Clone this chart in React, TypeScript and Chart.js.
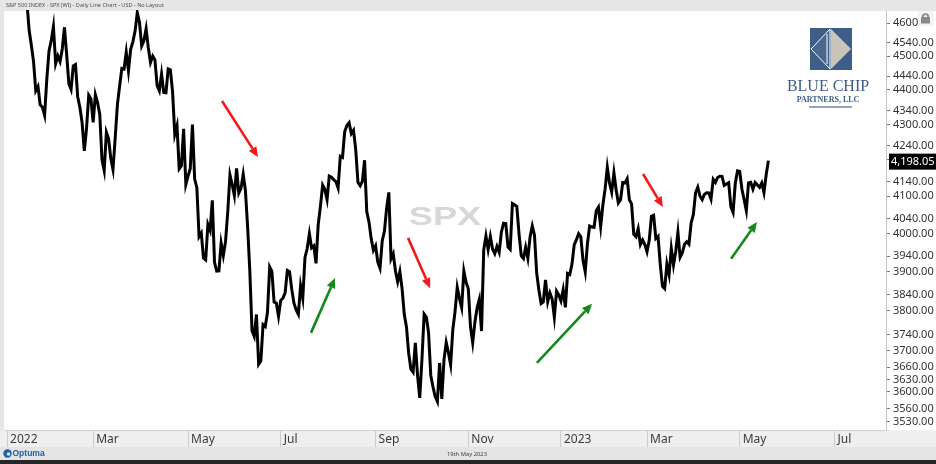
import { useEffect, useRef } from "react";
import { Chart, registerables } from "chart.js";

Chart.register(...registerables);

// S&P 500 daily closes, one array per month (trading days)
const jan22 = [4796.56, 4793.54, 4700.58, 4696.05, 4677.03, 4670.29, 4713.07, 4726.35, 4659.03, 4662.85, 4577.11, 4532.76, 4482.73, 4397.94, 4410.13, 4356.45, 4349.93, 4326.51, 4431.85, 4515.55];
const feb22 = [4546.54, 4589.38, 4477.44, 4500.53, 4483.87, 4521.54, 4587.18, 4504.08, 4418.64, 4401.67, 4471.07, 4475.01, 4380.26, 4348.87, 4304.76, 4225.5, 4288.7, 4384.65, 4373.94];
const mar22 = [4306.26, 4386.54, 4363.49, 4328.87, 4201.09, 4170.7, 4277.88, 4259.52, 4204.31, 4173.11, 4262.45, 4357.86, 4411.67, 4463.12, 4461.18, 4511.61, 4456.24, 4520.16, 4543.06, 4575.52, 4631.6, 4602.45, 4530.41];
const apr22 = [4545.86, 4582.64, 4525.12, 4481.15, 4500.21, 4488.28, 4412.53, 4397.45, 4446.59, 4392.59, 4391.69, 4462.21, 4459.45, 4393.66, 4271.78, 4296.12, 4175.2, 4183.96, 4287.5, 4131.93];
const may22 = [4155.38, 4175.48, 4300.17, 4146.87, 4123.34, 3991.24, 4001.05, 3935.18, 3930.08, 4023.89, 4008.01, 4088.85, 3923.68, 3900.79, 3901.36, 3973.75, 3941.48, 3978.73, 4057.84, 4158.24, 4132.15];
const jun22 = [4101.23, 4176.82, 4108.54, 4121.43, 4160.68, 4115.77, 4017.82, 3900.86, 3749.63, 3735.48, 3789.99, 3666.77, 3674.84, 3764.79, 3759.89, 3795.73, 3911.74, 3900.11, 3821.55, 3818.83, 3785.38];
const jul22 = [3825.33, 3831.39, 3845.08, 3902.62, 3899.38, 3854.43, 3818.8, 3801.78, 3790.38, 3863.16, 3830.85, 3936.69, 3959.9, 3998.95, 3961.63, 3966.84, 3921.05, 4023.61, 4072.43, 4130.29];
const aug22 = [4118.63, 4091.19, 4155.17, 4151.94, 4145.19, 4140.06, 4122.47, 4210.24, 4207.27, 4280.15, 4297.14, 4305.2, 4274.04, 4283.74, 4228.48, 4137.99, 4128.73, 4140.77, 4199.12, 4057.66, 4030.61, 3986.16, 3955.0];
const sep22 = [3966.85, 3924.26, 3908.19, 3979.87, 4006.18, 4067.36, 4110.41, 3932.69, 3946.01, 3901.35, 3873.33, 3899.89, 3855.93, 3789.93, 3757.99, 3693.23, 3655.04, 3647.29, 3719.04, 3640.47, 3585.62];
const oct22 = [3678.43, 3790.93, 3783.28, 3744.52, 3639.66, 3612.39, 3588.84, 3577.03, 3669.91, 3583.07, 3677.95, 3719.98, 3695.16, 3665.78, 3752.75, 3797.34, 3859.11, 3830.6, 3807.3, 3901.06, 3871.98];
const nov22 = [3856.1, 3759.69, 3719.89, 3770.55, 3806.8, 3828.11, 3748.57, 3956.37, 3992.93, 3957.25, 3991.73, 3958.79, 3946.56, 3965.34, 3949.94, 4003.58, 4027.26, 4026.12, 3963.94, 3957.63, 4080.11];
const dec22 = [4076.57, 4071.7, 3998.84, 3941.26, 3933.92, 3963.51, 3934.38, 3990.56, 4019.65, 3995.32, 3895.75, 3852.36, 3817.66, 3821.62, 3878.44, 3822.39, 3844.82, 3829.25, 3783.22, 3849.28, 3839.5];
const jan23 = [3824.14, 3852.97, 3808.1, 3895.08, 3892.09, 3919.25, 3969.61, 3983.17, 3999.09, 3990.97, 3928.86, 3898.85, 3972.61, 4019.81, 4016.95, 4016.22, 4060.43, 4070.56, 4017.77, 4076.6];
const feb23 = [4119.21, 4179.76, 4136.48, 4111.08, 4164.0, 4117.86, 4081.5, 4090.46, 4137.29, 4136.13, 4147.6, 4090.41, 4079.09, 3997.34, 3991.05, 4012.32, 3970.04, 3982.24, 3970.15];
const mar23 = [3951.39, 3981.35, 4045.64, 4048.42, 3986.37, 3992.01, 3918.32, 3861.59, 3855.76, 3919.29, 3891.93, 3960.28, 3916.64, 3951.57, 4002.87, 3936.97, 3948.72, 3970.99, 3977.53, 3971.27, 4027.81, 4050.83, 4109.31];
const apr23 = [4124.51, 4100.6, 4090.38, 4105.02, 4109.11, 4108.94, 4091.95, 4146.22, 4137.64, 4151.32, 4154.87, 4154.52, 4129.79, 4133.52, 4137.04, 4071.63, 4055.99, 4135.35, 4169.48];
const may23 = [4167.87, 4119.58, 4090.75, 4061.22, 4136.25, 4138.12, 4119.17, 4137.64, 4130.62, 4124.08, 4136.28, 4109.9, 4158.77, 4198.05];

const closes = [
  ...jan22, ...feb22, ...mar22, ...apr22, ...may22, ...jun22, ...jul22, ...aug22, ...sep22, ...oct22, ...nov22, ...dec22,
  ...jan23, ...feb23, ...mar23, ...apr23, ...may23,
];

// month-start trading-day indices for the time axis
const X_TICK_INDEX = [0, 39, 82, 124, 167, 209, 251, 290, 332, 375];
const X_TICK_LABELS = ["2022", "Mar", "May", "Jul", "Sep", "Nov", "2023", "Mar", "May", "Jul"];
const X_MIN = -1.4;
const X_MAX = 398.3;

const Y_TICKS = [3530, 3560, 3600, 3630, 3660, 3700, 3740, 3800, 3840, 3900, 3940, 4000, 4040, 4100, 4140, 4200, 4240, 4300, 4340, 4400, 4440, 4500, 4540, 4600];
const Y_MIN = 3510;
const Y_MAX = 4637;
const LAST_PRICE = 4198.05;

const TITLE = "S&P 500 INDEX - SPX (WI) - Daily Line Chart - USD - No Layout";
const FOOT_DATE = "19th May 2023";

// annotation arrows in (trading-day index, price)
const ARROW_FROM_X = [97.4, 181.7, 288.2, 137.7, 240.1, 328.1];
const ARROW_FROM_Y = [4368, 3988, 4161, 3744, 3670, 3933];
const ARROW_TO_X = [113.7, 191.7, 297.2, 148.6, 265.1, 339.8];
const ARROW_TO_Y = [4208, 3857, 4071, 3883, 3817, 4030];
const ARROW_COLOR = ["#f01c1c", "#f01c1c", "#f01c1c", "#16881c", "#16881c", "#16881c"];

function drawArrow(ctx: CanvasRenderingContext2D, x1: number, y1: number, x2: number, y2: number, color: string) {
  const ang = Math.atan2(y2 - y1, x2 - x1);
  const hl = 10;
  const hw = 4.5;
  const bx = x2 - hl * Math.cos(ang);
  const by = y2 - hl * Math.sin(ang);
  ctx.strokeStyle = color;
  ctx.lineWidth = 2.6;
  ctx.beginPath();
  ctx.moveTo(x1, y1);
  ctx.lineTo(bx, by);
  ctx.stroke();
  ctx.beginPath();
  ctx.moveTo(x2, y2);
  ctx.lineTo(bx + hw * Math.sin(ang), by - hw * Math.cos(ang));
  ctx.lineTo(bx - hw * Math.sin(ang), by + hw * Math.cos(ang));
  ctx.closePath();
  ctx.fillStyle = color;
  ctx.fill();
}

function fitText(ctx: CanvasRenderingContext2D, text: string, family: string, targetW: number) {
  ctx.font = `10px ${family}`;
  const w = ctx.measureText(text).width;
  const size = (10 * targetW) / w;
  ctx.font = `${size.toFixed(2)}px ${family}`;
}

const decor = {
  id: "decor",
  beforeDraw(chart: any) {
    const { ctx, width, height, chartArea: a } = chart;
    ctx.save();
    ctx.fillStyle = "#e6e6e6";
    ctx.fillRect(0, 0, width, height);
    ctx.fillStyle = "#ffffff";
    ctx.fillRect(a.left, a.top, width - a.left, a.bottom - a.top);
    ctx.fillStyle = "#efefef";
    ctx.fillRect(0, a.bottom, width, 17);
    ctx.fillStyle = "#e4e4e4";
    ctx.fillRect(0, a.bottom + 17, width, 13);
    ctx.fillStyle = "#262626";
    ctx.fillRect(0, height - 4, width, 4);
    // title
    ctx.fillStyle = "#505050";
    ctx.textBaseline = "middle";
    ctx.textAlign = "left";
    fitText(ctx, TITLE, '"Noto Sans"', 158);
    ctx.fillText(TITLE, 6, 5.5);
    ctx.restore();
  },
  beforeDatasetsDraw(chart: any) {
    const { ctx, chartArea: a } = chart;
    ctx.save();
    ctx.fillStyle = "#d7d7d7";
    ctx.textAlign = "center";
    ctx.textBaseline = "middle";
    ctx.font = 'bold 25px "Liberation Sans"';
    const cx = (a.left + a.right) / 2;
    const cy = (a.top + a.bottom) / 2 - 2;
    ctx.translate(cx, cy);
    ctx.scale(1.45, 1);
    ctx.fillText("SPX", 0, 0);
    ctx.restore();
  },
  afterDraw(chart: any) {
    const { ctx, chartArea: a, width } = chart;
    const xs = chart.scales.x;
    const ys = chart.scales.y;
    ctx.save();
    // arrows
    for (let i = 0; i < ARROW_FROM_X.length; i++) {
      drawArrow(
        ctx,
        xs.getPixelForValue(ARROW_FROM_X[i]),
        ys.getPixelForValue(ARROW_FROM_Y[i]),
        xs.getPixelForValue(ARROW_TO_X[i]),
        ys.getPixelForValue(ARROW_TO_Y[i]),
        ARROW_COLOR[i]
      );
    }
    // last price label
    const py = ys.getPixelForValue(LAST_PRICE) + 1;
    ctx.fillStyle = "#000";
    ctx.fillRect(a.right + 3, py - 8, width - a.right - 3, 16);
    ctx.fillStyle = "#fff";
    ctx.font = '11px "Noto Sans"';
    ctx.textAlign = "left";
    ctx.textBaseline = "middle";
    ctx.fillText(LAST_PRICE.toLocaleString("en-US", { minimumFractionDigits: 2 }), a.right + 5, py);

    // lock icon
    ctx.fillStyle = "#f4f4f4";
    ctx.fillRect(918, 11, 16, 15);
    ctx.strokeStyle = "#8a8a8a";
    ctx.lineWidth = 1.8;
    ctx.beginPath();
    ctx.arc(925.5, 17, 2.8, Math.PI, 0);
    ctx.stroke();
    ctx.fillStyle = "#8a8a8a";
    ctx.fillRect(921, 17, 9, 6.5);

    // logo
    const lx = 831;
    const lt = 28;
    const s = 42;
    ctx.fillStyle = "#3e5d87";
    ctx.fillRect(lx - s / 2, lt, s, s);
    ctx.beginPath();
    ctx.moveTo(lx, lt + 1);
    ctx.lineTo(lx + s / 2 - 1, lt + s / 2);
    ctx.lineTo(lx, lt + s - 1);
    ctx.closePath();
    ctx.fillStyle = "#c9c5bd";
    ctx.fill();
    ctx.beginPath();
    ctx.moveTo(lx - 1, lt + 1);
    ctx.lineTo(lx - s / 2 + 1, lt + s / 2);
    ctx.lineTo(lx - 1, lt + s - 1);
    ctx.closePath();
    ctx.fillStyle = "#48688f";
    ctx.fill();
    ctx.strokeStyle = "#ffffff";
    ctx.lineWidth = 1;
    ctx.stroke();
    ctx.beginPath();
    ctx.moveTo(lx - 4, lt + 6);
    ctx.lineTo(lx - 4, lt + s - 6);
    ctx.stroke();
    ctx.fillStyle = "#3e5d87";
    ctx.textAlign = "center";
    ctx.textBaseline = "alphabetic";
    ctx.font = '16px "Liberation Serif"';
    ctx.fillText("BLUE CHIP", 828, 91);
    ctx.font = 'bold 8px "Liberation Serif"';
    ctx.fillText("PARTNERS, LLC", 828, 102);
    ctx.fillStyle = "#93a5bd";
    ctx.fillRect(809, 106, 43, 2);

    // footer: Optuma brand and date
    const fy = a.bottom + 17;
    ctx.fillStyle = "#1d5ea8";
    ctx.beginPath();
    ctx.arc(7.5, fy + 6.5, 4.2, 0, Math.PI * 2);
    ctx.fill();
    ctx.fillStyle = "#e4e4e4";
    ctx.beginPath();
    ctx.arc(8.5, fy + 7, 1.8, 0, Math.PI * 2);
    ctx.fill();
    ctx.fillStyle = "#1d5ea8";
    ctx.textAlign = "left";
    ctx.textBaseline = "middle";
    ctx.font = 'bold 8.5px "Liberation Sans"';
    ctx.fillText("Optuma", 12.5, fy + 7);
    ctx.fillStyle = "#404040";
    fitText(ctx, FOOT_DATE, '"Noto Sans"', 40);
    ctx.fillText(FOOT_DATE, 447, fy + 7);
    ctx.restore();
  },
};

export default function App() {
  const ref = useRef<HTMLCanvasElement>(null);
  useEffect(() => {
    document.body.style.margin = "0";
    const chart = new Chart(ref.current as HTMLCanvasElement, {
      type: "line",
      data: {
        datasets: [
          {
            data: closes.map((v, i) => ({ x: i, y: v })),
            borderColor: "#000000",
            borderWidth: 3,
            pointRadius: 0,
            tension: 0,
            clip: 1,
          },
        ],
      },
      options: {
        animation: false,
        responsive: false,
        layout: { padding: { top: 11, left: 4, right: 0, bottom: 0 } },
        plugins: { legend: { display: false }, tooltip: { enabled: false } },
        scales: {
          x: {
            type: "linear",
            min: X_MIN,
            max: X_MAX,
            afterBuildTicks: (s: any) => {
              s.ticks = X_TICK_INDEX.map((v) => ({ value: v }));
            },
            afterFit: (s: any) => {
              s.height = 34;
            },
            ticks: {
              autoSkip: false,
              maxRotation: 0,
              align: "start",
              labelOffset: 3,
              padding: -15,
              color: "#3a3a3a",
              font: { family: '"Noto Sans"', size: 12 },
              callback: (v: any) => {
                const k = X_TICK_INDEX.indexOf(Number(v));
                return k >= 0 ? X_TICK_LABELS[k] : "";
              },
            },
            grid: { drawOnChartArea: false, drawTicks: true, tickLength: 17, color: "#cdcdcd" },
            border: { display: true, color: "#d2d2d2" },
          },
          y: {
            type: "logarithmic",
            position: "right",
            min: Y_MIN,
            max: Y_MAX,
            afterBuildTicks: (s: any) => {
              s.ticks = Y_TICKS.map((v) => ({ value: v }));
            },
            afterFit: (s: any) => {
              s.width = 50;
            },
            ticks: {
              autoSkip: false,
              padding: 3,
              color: "#333333",
              font: { family: '"Noto Sans"', size: 11 },
              callback: (v: any) => Number(v).toFixed(2),
            },
            grid: { drawOnChartArea: false, drawTicks: true, tickLength: 4, color: "#777777" },
            border: { display: true, color: "#c4c4c4" },
          },
        },
      },
      plugins: [decor],
    } as any);
    return () => chart.destroy();
  }, []);
  return (
    <div style={{ position: "fixed", left: 0, top: 0, width: 936, height: 464 }}>
      <canvas ref={ref} width={936} height={464} style={{ display: "block", width: 936, height: 464 }} />
    </div>
  );
}
